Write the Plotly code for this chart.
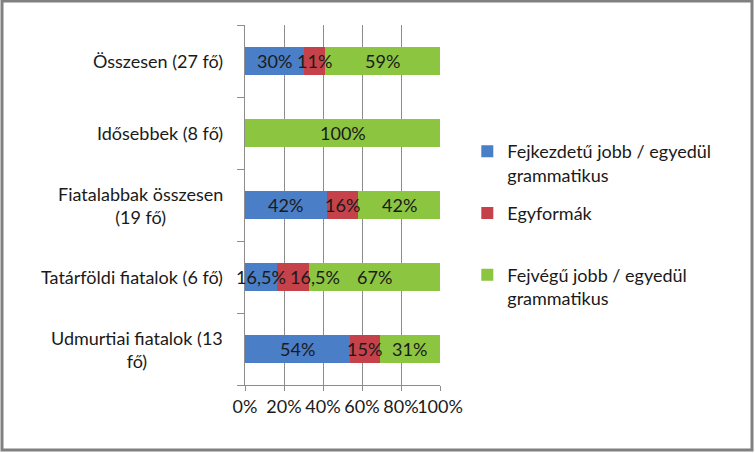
import plotly.graph_objects as go

# --- Data ---
groups = [
    "Udmurtiai fiatalok (13<br>fő)",
    "Tatárföldi fiatalok (6 fő)",
    "Fiatalabbak összesen<br>(19 fő)",
    "Idősebbek (8 fő)",
    "Összesen (27 fő)",
]
head_first = [54, 16.5, 42, 0, 30]
same = [15, 16.5, 16, 0, 11]
head_last = [31, 67, 42, 100, 59]

series_names = [
    "Fejkezdetű jobb / egyedül<br>grammatikus",
    "Egyformák<br> ",
    "Fejvégű jobb / egyedül<br>grammatikus",
]
colors = ["#4A7EC7", "#C6424B", "#8CC540"]
x_ticks = [0, 20, 40, 60, 80, 100]

FONT = "Lato, Calibri, sans-serif"
FS = 18
PX_PER_PCT = 195 / 100  # plot width / x range, for label overlap checks


def pct_label(v):
    s = f"{v:g}".replace(".", ",")
    return s + "%"


def label_width(s):
    # rough width of a label in px at FS
    return sum(15 if c == "%" else 5 if c == "," else 10 for c in s)


series = [head_first, same, head_last]

fig = go.Figure()
for i, (name, vals) in enumerate(zip(series_names, series)):
    fig.add_trace(go.Bar(
        y=groups, x=vals, name=name, orientation="h",
        marker=dict(color=colors[i], line=dict(width=0)),
        legendgroup=f"g{i}",
    ))

# data labels on top of every segment; nudge right when they would collide
for j, g in enumerate(groups):
    base = 0
    prev_right = None
    for vals in series:
        v = vals[j]
        if v > 0:
            txt = pct_label(v)
            centre = (base + v / 2) * PX_PER_PCT
            w = label_width(txt)
            shift = 0
            if prev_right is not None and centre - w / 2 < prev_right + 4:
                shift = prev_right + 4 - (centre - w / 2)
            prev_right = centre + shift + w / 2
            fig.add_annotation(
                x=base + v / 2, y=g, xref="x", yref="y", xshift=shift,
                text=txt, showarrow=False,
                font=dict(family=FONT, size=FS, color="#1a1a1a"),
            )
        base += v

# category labels, centred multi-line like the original
for g in groups:
    fig.add_annotation(
        x=0, xref="paper", y=g, yref="y", text=g, showarrow=False,
        xanchor="right", xshift=-20, align="center",
        font=dict(family=FONT, size=FS, color="#1a1a1a"),
    )

# outer frame
fig.add_shape(
    type="rect", xref="paper", yref="paper",
    x0=(2 - 245) / 195, x1=(752 - 245) / 195,
    y0=(385 - 450) / 360, y1=(385 - 1) / 360,
    line=dict(color="#808080", width=3),
)

fig.update_layout(
    width=755, height=453,
    margin=dict(l=245, r=315, t=25, b=68),
    barmode="stack", bargap=0.62,
    paper_bgcolor="white", plot_bgcolor="white",
    font=dict(family=FONT, size=FS, color="#1a1a1a"),
    showlegend=True,
    legend=dict(
        x=1.14, y=0.70, xanchor="left", yanchor="top",
        traceorder="grouped", tracegroupgap=12, valign="top",
        font=dict(family=FONT, size=FS, color="#1a1a1a"),
        bgcolor="rgba(0,0,0,0)",
    ),
    xaxis=dict(
        range=[0, 100], tickvals=x_ticks,
        ticktext=[f"{t}%" for t in x_ticks], tickangle=0,
        showgrid=True, gridcolor="#8c8c8c", gridwidth=1,
        showline=True, linecolor="#8c8c8c", linewidth=1,
        ticks="outside", ticklen=5, tickcolor="#8c8c8c",
        ticklabelstandoff=0, zeroline=False,
        tickfont=dict(family=FONT, size=FS, color="#1a1a1a"),
    ),
    yaxis=dict(
        categoryorder="array", categoryarray=groups,
        showticklabels=False, showgrid=False,
        showline=True, linecolor="#8c8c8c", linewidth=1,
        ticks="outside", ticklen=7, tickcolor="#8c8c8c",
        tickson="boundaries",
    ),
)

fig.write_html(
    "out.html",
    config={"displayModeBar": False},
    post_script="document.body.style.margin='0';",
)
